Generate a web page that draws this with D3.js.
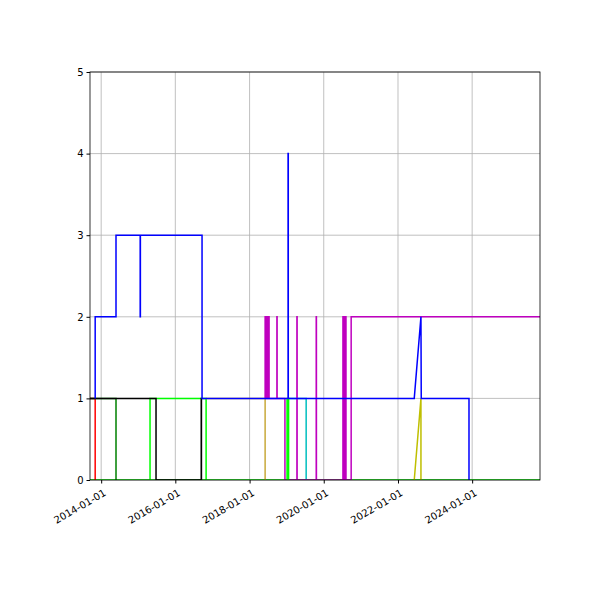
<!DOCTYPE html>
<html><head><meta charset="utf-8">
<script src="https://cdn.jsdelivr.net/npm/d3@7"></script>
<style>body{margin:0;background:#fff}text{font-family:"DejaVu Sans",sans-serif}</style>
</head><body><div id="chart"></div>
<script>
const xDomain = ["2013-09-13", "2025-10-30"];
const yTicks = [0, 1, 2, 3, 4, 5];
const xTicks = ["2014-01-01", "2016-01-01", "2018-01-01", "2020-01-01", "2022-01-01", "2024-01-01"];

const limeBase = [["2013-09-13", 0], ["2025-10-30", 0]];
const red = [["2013-09-13", 1], ["2013-11-03", 1], ["2013-11-03", 0]];
const darkGreen = [["2013-09-13", 1], ["2014-05-27", 1], ["2014-05-27", 0]];
const black = [["2013-09-13", 1], ["2015-06-25", 1], ["2015-06-25", 0], ["2016-09-12", 0], ["2016-09-12", 1], ["2016-09-14", 1], ["2016-09-14", 0]];
const lime = [["2015-04-27", 0], ["2015-04-27", 1], ["2016-10-30", 1], ["2016-10-30", 0]];
const gold = [["2016-10-30", 1], ["2018-06-03", 1], ["2018-06-03", 0]];
const cyan = [["2019-01-15", 1], ["2019-07-12", 1], ["2019-07-12", 0]];
const lime2 = [["2019-01-05", 0], ["2019-01-05", 1], ["2019-01-20", 1], ["2019-01-20", 0]];
const yellow = [["2022-06-10", 0], ["2022-08-15", 1], ["2022-08-15", 0]];
const magenta = [
  ["2018-06-03", 1], ["2018-06-03", 2], ["2018-06-10", 2], ["2018-06-10", 1], ["2018-06-18", 1], ["2018-06-18", 2],
  ["2018-06-26", 2], ["2018-06-26", 1], ["2018-07-05", 1], ["2018-07-05", 2], ["2018-07-12", 2], ["2018-07-12", 1],
  ["2018-09-27", 1], ["2018-09-27", 2], ["2018-09-29", 2], ["2018-09-29", 1],
  ["2018-12-15", 1], ["2018-12-15", 0], ["2019-04-12", 0], ["2019-04-12", 2], ["2019-04-14", 2], ["2019-04-14", 0],
  ["2019-10-19", 0], ["2019-10-19", 2], ["2019-10-21", 2], ["2019-10-21", 0],
  ["2020-07-08", 0], ["2020-07-08", 2], ["2020-07-18", 2], ["2020-07-18", 0], ["2020-07-28", 0], ["2020-07-28", 2],
  ["2020-08-07", 2], ["2020-08-07", 0], ["2020-09-27", 0], ["2020-09-27", 2], ["2025-10-30", 2]];
const blue = [
  ["2013-11-03", 1], ["2013-11-03", 2], ["2014-05-27", 2], ["2014-05-27", 3], ["2015-01-20", 3], ["2015-01-20", 2],
  ["2015-01-22", 2], ["2015-01-22", 3], ["2016-09-20", 3], ["2016-09-20", 1], ["2019-01-15", 1], ["2019-01-15", 4],
  ["2019-01-17", 4], ["2019-01-17", 1], ["2022-06-10", 1], ["2022-08-15", 2], ["2022-08-18", 1], ["2023-12-01", 1],
  ["2023-12-01", 0]];

const series = [
  {data: limeBase, color: "#00ff00"}, {data: red, color: "#ff0000"}, {data: darkGreen, color: "#008000"},
  {data: lime, color: "#00ff00"}, {data: black, color: "#000000"}, {data: gold, color: "#c8aa3c"},
  {data: yellow, color: "#bfbf00"}, {data: cyan, color: "#00bfbf"}, {data: magenta, color: "#bf00bf"},
  {data: lime2, color: "#00ff00"}, {data: blue, color: "#0000ff"}];

const margin = {top: 72, right: 60, bottom: 120, left: 90};
const width = 600, height = 600;
const parse = d3.timeParse("%Y-%m-%d");

const svg = d3.select("#chart").append("svg").attr("width", width).attr("height", height);
const x = d3.scaleTime().domain(xDomain.map(parse)).range([margin.left, width - margin.right]);
const y = d3.scaleLinear().domain([0, 5]).range([height - margin.bottom, margin.top]);

// grid
svg.append("g").selectAll("line").data(xTicks).enter().append("line")
  .attr("x1", d => x(parse(d))).attr("x2", d => x(parse(d)))
  .attr("y1", y(0)).attr("y2", y(5)).attr("stroke", "#b0b0b0").attr("stroke-width", 0.8);
svg.append("g").selectAll("line").data(yTicks).enter().append("line")
  .attr("x1", x.range()[0]).attr("x2", x.range()[1])
  .attr("y1", d => y(d)).attr("y2", d => y(d)).attr("stroke", "#b0b0b0").attr("stroke-width", 0.8);

const line = d3.line().x(d => x(parse(d[0]))).y(d => y(d[1]));
const plot = svg.append("g");
plot.append("clipPath").attr("id", "clip").append("rect")
  .attr("x", x.range()[0]).attr("y", y(5)).attr("width", x.range()[1] - x.range()[0]).attr("height", y(0) - y(5));
series.forEach(s => {
  plot.append("path").attr("d", line(s.data)).attr("fill", "none")
    .attr("stroke", s.color).attr("stroke-width", 1.5).attr("clip-path", "url(#clip)");
});

svg.append("rect").attr("x", x.range()[0]).attr("y", y(5))
  .attr("width", x.range()[1] - x.range()[0]).attr("height", y(0) - y(5))
  .attr("fill", "none").attr("stroke", "black").attr("stroke-width", 0.8);

const xAxis = svg.append("g").attr("transform", `translate(0,${y(0)})`)
  .call(d3.axisBottom(x).tickValues(xTicks.map(parse)).tickFormat(d3.timeFormat("%Y-%m-%d")).tickSize(3.5).tickSizeOuter(0));
xAxis.select(".domain").remove();
xAxis.selectAll("text").attr("font-size", 10).attr("fill", "black")
  .attr("text-anchor", "end").attr("dx", "-0.3em").attr("dy", "0.9em")
  .attr("transform", "rotate(-30)");

const yAxis = svg.append("g").attr("transform", `translate(${x.range()[0]},0)`)
  .call(d3.axisLeft(y).tickValues(yTicks).tickFormat(d3.format("d")).tickSize(3.5).tickSizeOuter(0));
yAxis.select(".domain").remove();
yAxis.selectAll("text").attr("font-size", 10).attr("fill", "black");
</script></body></html>
